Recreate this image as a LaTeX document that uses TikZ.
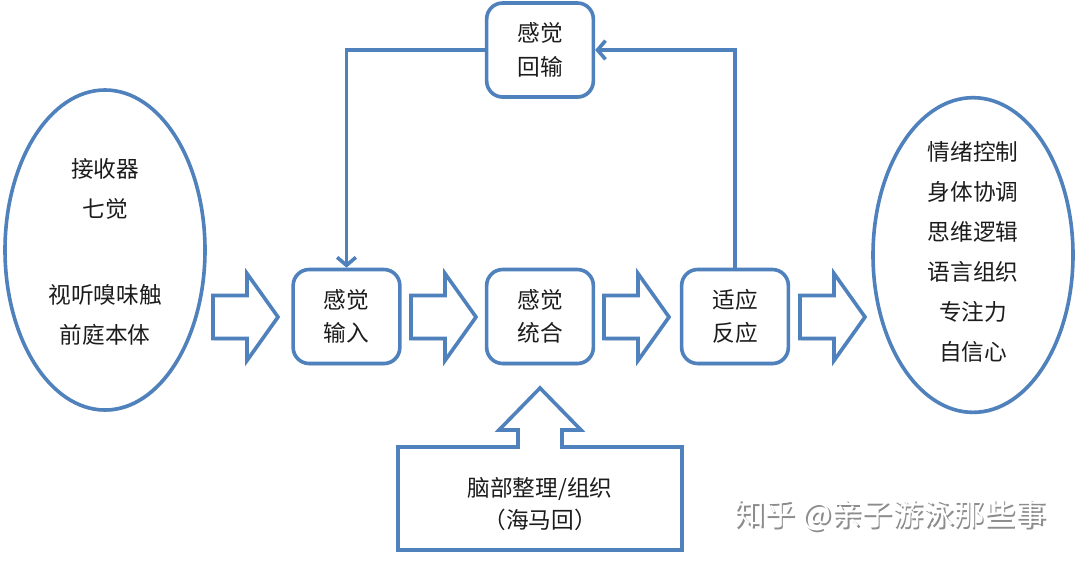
\documentclass[tikz,border=0pt]{standalone}
\usepackage{fontspec}
\setmainfont{Noto Sans CJK SC}
\usetikzlibrary{shapes.geometric,arrows.meta,shadows}
\definecolor{lblue}{RGB}{79,129,189}
\definecolor{txt}{RGB}{28,28,28}
\begin{document}
\begin{tikzpicture}[x=0.75pt,y=-0.75pt,
  blkshape/.style={draw=lblue, line width=2.7pt, fill=white,
    drop shadow={shadow xshift=0.6pt, shadow yshift=-1.4pt, opacity=0.22, fill=black}},
  stepbox/.style={blkshape, rounded corners=12pt, minimum width=80pt, minimum height=70.5pt,
    align=center, text=txt, inner sep=0pt, font=\fontsize{17pt}{25pt}\selectfont},
  oval/.style={blkshape, ellipse, minimum width=150pt, minimum height=240pt, inner sep=0pt},
  lbl/.style={align=center, text=txt, inner sep=0pt},
  conn/.style={draw=lblue, line width=2.7pt, line join=miter,
    -{Straight Barb[length=6pt,width=14pt]}},
  fat/.style={blkshape, line join=miter}
]
\fill[white] (0,0) rectangle (1080,560);
\useasboundingbox (0,0) rectangle (1080,560);

% ellipses
\node[oval] (le) at (105,250) {};
\node[lbl, font=\fontsize{17pt}{30pt}\selectfont] (lt) at (105,252)
  {接收器\\七觉\\[35pt]视听嗅味触\\前庭本体};
\node[oval, minimum height=236pt] (re) at (973,255) {};
\node[lbl, font=\fontsize{17pt}{30pt}\selectfont] (rt) at (973,252)
  {情绪控制\\身体协调\\思维逻辑\\语言组织\\专注力\\自信心};

% boxes
\node[stepbox] (b1) at (346.5,316.5) {感觉\\输入};
\node[stepbox] (b2) at (540,316.5) {感觉\\统合};
\node[stepbox] (b3) at (735,316.5) {适应\\反应};
\node[stepbox] (fb) at (540,50) {感觉\\回输};

% fat arrows
\newcommand{\fatarrow}[2]{%
  \draw[fat] (#1,#2) ++(0,-21.5) -- ++(34,0) -- ++(0,-22) -- ++(31,43.5)
    -- ++(-31,43.5) -- ++(0,-22) -- ++(-34,0) -- cycle;}
\fatarrow{213}{317}
\fatarrow{411}{317}
\fatarrow{604}{317}
\fatarrow{800}{317}

% bottom callout
\draw[fat] (398,447) -- (518,447) -- (518,430) -- (499,430) -- (540,388)
  -- (581,430) -- (562,430) -- (562,447) -- (682,447) -- (682,550) -- (398,550) -- cycle;
\node[lbl, font=\fontsize{17pt}{24pt}\selectfont] (brain) at (540,504)
  {脑部整理/组织\\（海马回）};

% feedback connectors
\draw[conn] (b3.north) |- (fb.east);
\draw[conn] (fb.west) -| (b1.north);

% watermark
\node[inner sep=0pt, text=black!45, font=\fontsize{23pt}{23pt}\selectfont] (wms) at (892,517) {知乎 @亲子游泳那些事};
\node[inner sep=0pt, text=white, font=\fontsize{23pt}{23pt}\selectfont] (wm) at (890.5,515.5) {知乎 @亲子游泳那些事};
\end{tikzpicture}
\end{document}
